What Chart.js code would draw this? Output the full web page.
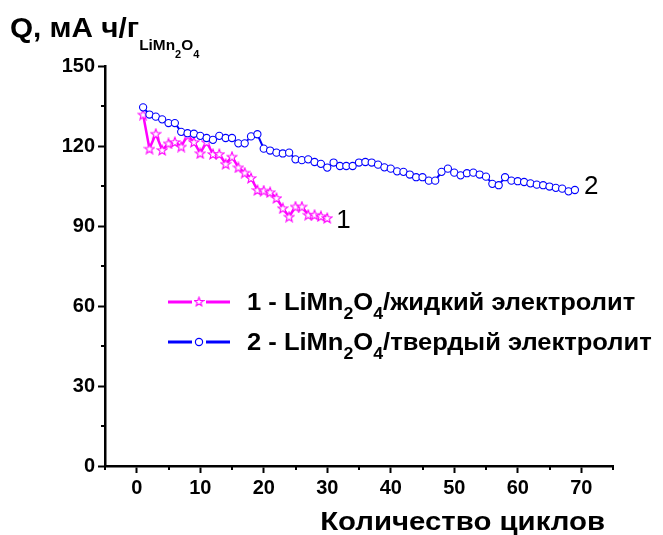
<!DOCTYPE html>
<html>
<head>
<meta charset="utf-8">
<script src="https://cdn.jsdelivr.net/npm/chart.js@4"></script>
<style>
  html, body { margin: 0; padding: 0; background: #fff; }
  #wrap { width: 663px; height: 535px; }
</style>
</head>
<body>
<div id="wrap"><canvas id="chart" width="663" height="535"></canvas></div>
<script>
const cyclesLiquid = [1, 2, 3, 4, 5, 6, 7, 8, 9, 10, 11, 12, 13, 14, 15, 16, 17, 18, 19, 20,
  21, 22, 23, 24, 25, 26, 27, 28, 29, 30]
const capacityLiquid = [131.8, 119, 124.6, 118.5, 121, 121.5, 119.8, 124, 121.5, 117.3,
  121.5, 117, 117, 113.3, 116, 112, 110, 108, 103.5, 103.3,
  102.7, 100.5, 96.7, 93.5, 97.3, 97.3, 94.2, 94.2, 93.7, 93]

const cyclesSolid = [1, 2, 3, 4, 5, 6, 7, 8, 9, 10, 11, 12, 13, 14, 15, 16, 17, 18, 19, 20,
  21, 22, 23, 24, 25, 26, 27, 28, 29, 30, 31, 32, 33, 34, 35, 36, 37, 38, 39, 40,
  41, 42, 43, 44, 45, 46, 47, 48, 49, 50, 51, 52, 53, 54, 55, 56, 57, 58, 59, 60,
  61, 62, 63, 64, 65, 66, 67, 68, 69]
const capacitySolid = [134.5, 131.8, 131, 130, 128.6, 128.6, 125.3, 124.8, 124.6, 123.8,
  123, 122.3, 123.8, 123, 123, 121, 121, 123.6, 124.4, 119,
  118.3, 117.5, 117.2, 117.5, 115, 114.7, 115, 114, 113.3, 111.9,
  113.8, 112.5, 112.5, 112.5, 113.8, 114, 113.8, 113, 112, 111.5,
  110.5, 110.3, 109.3, 108.3, 108.3, 107, 107, 110.3, 111.5, 110,
  109, 109.8, 110, 109.3, 108.5, 105.8, 105.3, 108.3, 107, 106.8,
  106.5, 106, 105.5, 105.3, 104.8, 104.3, 104, 103, 103.5]

const xTicksMajor = [0, 10, 20, 30, 40, 50, 60, 70]
const yTicksMajor = [0, 30, 60, 90, 120, 150]

const FONT = '"Liberation Sans", Arial, sans-serif'
const MAGENTA = "#ff00ff"
const BLUE = "#0000ff"

// hollow five-point star used as the point marker of series 1
function makeStar(size, color) {
  const c = document.createElement("canvas")
  c.width = size
  c.height = size
  const g = c.getContext("2d")
  const cx = size / 2, cy = size / 2 + 0.5
  const ro = size / 2 - 0.8, ri = ro * 0.42
  g.beginPath()
  for (let i = 0; i < 10; i++) {
    const r = i % 2 === 0 ? ro : ri
    const a = -Math.PI / 2 + i * Math.PI / 5
    g.lineTo(cx + r * Math.cos(a), cy + r * Math.sin(a))
  }
  g.closePath()
  g.fillStyle = "#fff"
  g.fill()
  g.strokeStyle = color
  g.lineWidth = 1.1
  g.stroke()
  return c
}
const starMarker = makeStar(12, MAGENTA)
const starLegend = makeStar(11, MAGENTA)

// draws text pieces one after another (for subscripts), stretched sideways by sx
function drawRuns(ctx, x, y, runs, sx = 1, align = "left") {
  ctx.save()
  ctx.textBaseline = "alphabetic"
  ctx.textAlign = "left"
  let w = 0
  for (const r of runs) {
    ctx.font = `${r.weight || "bold"} ${r.size}px ${FONT}`
    w += ctx.measureText(r.t).width
  }
  ctx.translate(align === "right" ? x - w * sx : x, y)
  ctx.scale(sx, 1)
  let cx = 0
  for (const r of runs) {
    ctx.font = `${r.weight || "bold"} ${r.size}px ${FONT}`
    ctx.fillText(r.t, cx, r.dy || 0)
    cx += ctx.measureText(r.t).width
  }
  ctx.restore()
}

const decorations = {
  id: "decorations",
  afterDraw(chart) {
    const { ctx, chartArea, scales } = chart
    const xs = scales.x, ys = scales.y
    ctx.save()
    ctx.fillStyle = "#000"
    ctx.strokeStyle = "#000"
    ctx.lineWidth = 2

    // minor ticks
    ctx.beginPath()
    for (let v = -5; v <= 75; v += 10) {
      const px = Math.round(xs.getPixelForValue(v))
      ctx.moveTo(px, chartArea.bottom)
      ctx.lineTo(px, chartArea.bottom + 4)
    }
    for (let v = 15; v <= 135; v += 30) {
      const py = Math.round(ys.getPixelForValue(v))
      ctx.moveTo(chartArea.left, py)
      ctx.lineTo(chartArea.left - 4, py)
    }
    ctx.stroke()

    // y title
    drawRuns(ctx, 10, 37, [
      { t: "Q, мА ч/г", size: 27 },
      { t: "LiMn", size: 14 },
      { t: "2", size: 10 },
      { t: "O", size: 14 },
      { t: "4", size: 10 }
    ].map((r, i) => ({ ...r, dy: [0, 13, 21, 13, 21][i] })), 1.1)

    // x title
    drawRuns(ctx, 605, 530, [{ t: "Количество циклов", size: 26 }], 1.13, "right")

    // series labels
    ctx.font = `26px ${FONT}`
    ctx.textAlign = "left"
    ctx.textBaseline = "middle"
    const n1 = cyclesLiquid.length - 1
    ctx.fillText("1", xs.getPixelForValue(cyclesLiquid[n1]) + 9, ys.getPixelForValue(capacityLiquid[n1]) + 3)
    const n2 = cyclesSolid.length - 1
    ctx.fillText("2", xs.getPixelForValue(cyclesSolid[n2]) + 9, ys.getPixelForValue(capacitySolid[n2]) - 3)

    // legend
    const rows = [
      { color: MAGENTA, y: 302, marker: "star", label: "1 - LiMn", tail: "/жидкий электролит" },
      { color: BLUE, y: 342, marker: "circle", label: "2 - LiMn", tail: "/твердый электролит" }
    ]
    for (const r of rows) {
      ctx.strokeStyle = r.color
      ctx.lineWidth = 3
      ctx.beginPath()
      ctx.moveTo(168, r.y)
      ctx.lineTo(192, r.y)
      ctx.moveTo(206, r.y)
      ctx.lineTo(230, r.y)
      ctx.stroke()
      if (r.marker === "star") {
        ctx.drawImage(starLegend, 199 - 5.5, r.y - 6)
      } else {
        ctx.lineWidth = 1.2
        ctx.beginPath()
        ctx.arc(199, r.y, 3.6, 0, Math.PI * 2)
        ctx.stroke()
      }
      ctx.fillStyle = "#000"
      drawRuns(ctx, 247, r.y + 8, [
        { t: r.label, size: 23 },
        { t: "2", size: 16, dy: 9 },
        { t: "O", size: 23 },
        { t: "4", size: 16, dy: 9 },
        { t: r.tail, size: 23 }
      ], 1.11)
    }
    ctx.restore()
  }
}

const points = (xs, ys) => xs.map((x, i) => ({ x, y: ys[i] }))

new Chart(document.getElementById("chart"), {
  type: "line",
  data: {
    datasets: [
      {
        data: points(cyclesSolid, capacitySolid),
        borderColor: BLUE,
        borderWidth: 2,
        pointStyle: "circle",
        pointRadius: 3.6,
        pointBorderWidth: 1.1,
        pointBorderColor: BLUE,
        pointBackgroundColor: "#fff",
        tension: 0
      },
      {
        data: points(cyclesLiquid, capacityLiquid),
        borderColor: MAGENTA,
        borderWidth: 2.5,
        pointStyle: starMarker,
        pointRadius: 6,
        tension: 0
      }
    ]
  },
  options: {
    responsive: false,
    animation: false,
    devicePixelRatio: 1,
    layout: { padding: { top: 66, right: 50, left: 0, bottom: 0 } },
    plugins: { legend: { display: false }, tooltip: { enabled: false } },
    scales: {
      x: {
        type: "linear",
        min: -5,
        max: 75,
        afterFit: (s) => { s.height = 69 },
        afterBuildTicks: (s) => { s.ticks = xTicksMajor.map((v) => ({ value: v })) },
        border: { display: true, color: "#000", width: 2.5 },
        grid: { drawOnChartArea: false, tickLength: 7, tickWidth: 2, tickColor: "#000" },
        ticks: {
          color: "#000",
          padding: 3,
          maxRotation: 0,
          autoSkip: false,
          font: { family: FONT, size: 20, weight: "bold" }
        }
      },
      y: {
        min: 0,
        max: 150,
        afterFit: (s) => { s.width = 105 },
        afterBuildTicks: (s) => { s.ticks = yTicksMajor.map((v) => ({ value: v })) },
        border: { display: true, color: "#000", width: 2.5 },
        grid: { drawOnChartArea: false, tickLength: 7, tickWidth: 2, tickColor: "#000" },
        ticks: {
          color: "#000",
          padding: 3,
          font: { family: FONT, size: 20, weight: "bold" }
        }
      }
    }
  },
  plugins: [decorations]
})
</script>
</body>
</html>
